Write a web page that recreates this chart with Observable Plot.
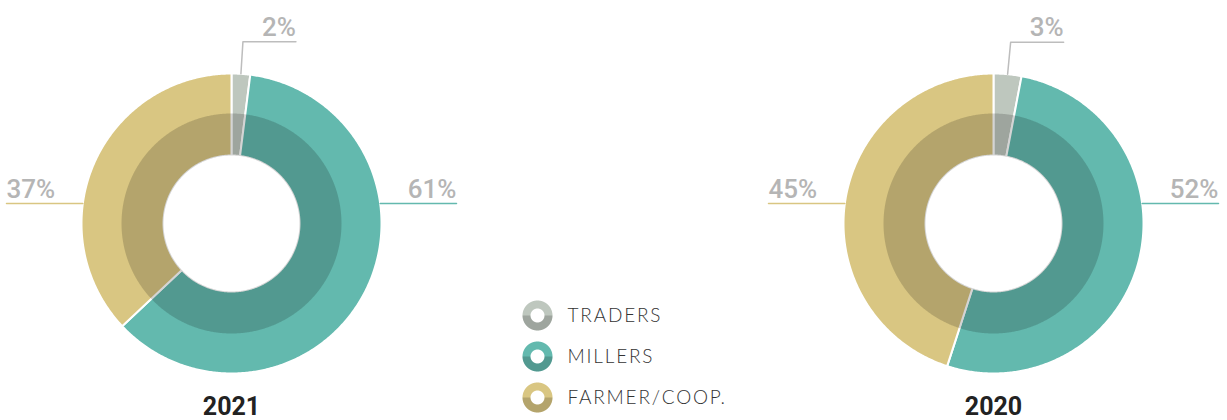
<!DOCTYPE html>
<html><head><meta charset="utf-8">
<script src="https://cdn.jsdelivr.net/npm/d3@7"></script>
<script src="https://cdn.jsdelivr.net/npm/@observablehq/plot@0.6"></script>
<style>
body{margin:0;background:#fff;}
#chart svg{display:block;}
</style></head><body><div id="chart"></div>
<script>
// ---- data ----
const years = ["2021", "2020"];
const categories = ["TRADERS", "MILLERS", "FARMER/COOP."];
const shares2021 = [2, 61, 37];
const shares2020 = [3, 52, 45];
const sliceColors = ["#bec7be", "#63b9ae", "#d9c682"];
const labelSuffix = "%";

// ---- layout ----
const W = 1227, H = 420;
const centers = [{cx: 231, cy: 223}, {cx: 993, cy: 223}];
const R_HOLE = 68, R_SHADE = 110, R_OUT = 150;
const SHADE_OPACITY = 0.17;
const legendX = 537, legendY0 = 315, legendStep = 41, legendR0 = 7, legendR1 = 15;

const seriesByYear = [shares2021, shares2020];

function ringPoints(cx, cy, r0, r1, a0, a1, id, color) {
  const n = Math.max(2, Math.ceil((a1 - a0) / (Math.PI / 360)));
  const pts = [];
  for (let i = 0; i <= n; i++) {
    const a = a0 + (a1 - a0) * i / n;
    pts.push({x: cx + r1 * Math.sin(a), y: cy - r1 * Math.cos(a), id, color});
  }
  for (let i = n; i >= 0; i--) {
    const a = a0 + (a1 - a0) * i / n;
    pts.push({x: cx + r0 * Math.sin(a), y: cy - r0 * Math.cos(a), id, color});
  }
  return pts;
}

const pie = d3.pie().sort(null).value(d => d.value).startAngle(0).endAngle(2 * Math.PI);

const slicePts = [], shadePts = [], leaderPts = [], labels = [], titles = [];
years.forEach((yr, i) => {
  const {cx, cy} = centers[i];
  const rows = categories.map((c, j) => ({category: c, value: seriesByYear[i][j], color: sliceColors[j]}));
  const arcs = pie(rows);
  arcs.forEach((a, j) => {
    const id = yr + "-" + j;
    slicePts.push(...ringPoints(cx, cy, R_HOLE, R_OUT, a.startAngle, a.endAngle, id, a.data.color));
    const m = (a.startAngle + a.endAngle) / 2;
    const text = a.data.value + labelSuffix;
    if (a.data.value < 10) {
      const x0 = cx + R_OUT * Math.sin(m), y0 = cy - R_OUT * Math.cos(m);
      const x1 = cx + 182 * Math.sin(m), y1 = cy - 182 * Math.cos(m);
      const x2 = x1 + 53;
      leaderPts.push({x: x0, y: y0, id, color: "#bdbdbd"}, {x: x1, y: y1, id, color: "#bdbdbd"}, {x: x2, y: y1, id, color: "#bdbdbd"});
      labels.push({x: x2, y: y1 - 6, text, anchor: "end"});
    } else {
      const side = Math.sin(m) > 0 ? 1 : -1;
      const ly = cy - 20;
      const xe = cx + side * Math.sqrt(R_OUT * R_OUT - 20 * 20);
      const xo = cx + side * 225;
      leaderPts.push({x: xe, y: ly, id, color: a.data.color}, {x: xo, y: ly, id, color: a.data.color});
      labels.push({x: xo, y: ly - 6, text, anchor: side > 0 ? "end" : "start"});
    }
  });
  shadePts.push(...ringPoints(cx, cy, R_HOLE, R_SHADE, 0, 2 * Math.PI, "shade-" + yr, "black"));
  titles.push({x: cx, y: 414, text: yr});
});

const legendPts = [], legendShade = [], legendLabels = [];
categories.forEach((c, j) => {
  const cy = legendY0 + j * legendStep;
  legendPts.push(...ringPoints(legendX, cy, legendR0, legendR1, 0, 2 * Math.PI, "lg-" + j, sliceColors[j]));
  legendShade.push(...ringPoints(legendX, cy, legendR0, legendR1, Math.PI / 2, 3 * Math.PI / 2, "lgs-" + j, "black"));
  legendLabels.push({x: legendX + 30, y: cy, text: c});
});

const chart = Plot.plot({
  width: W, height: H,
  margin: 0,
  x: {domain: [0, W], range: [0, W], axis: null},
  y: {domain: [0, H], range: [0, H], axis: null},
  color: {type: "identity"},
  style: {background: "white", overflow: "visible"},
  marks: [
    Plot.line(slicePts, {x: "x", y: "y", z: "id", fill: "color", stroke: "white", strokeWidth: 2, curve: "linear-closed"}),
    Plot.line(shadePts, {x: "x", y: "y", z: "id", fill: "black", fillOpacity: SHADE_OPACITY, stroke: "none", curve: "linear-closed"}),
    Plot.line(leaderPts, {x: "x", y: "y", z: "id", stroke: "color", strokeWidth: 1.5, curve: "linear"}),
    Plot.text(labels.filter(d => d.anchor === "end"), {x: "x", y: "y", text: "text", textAnchor: "end", lineAnchor: "bottom", fontFamily: "Roboto", fontWeight: 500, fontSize: 26, fill: "#b5b5b5"}),
    Plot.text(labels.filter(d => d.anchor === "start"), {x: "x", y: "y", text: "text", textAnchor: "start", lineAnchor: "bottom", fontFamily: "Roboto", fontWeight: 500, fontSize: 26, fill: "#b5b5b5"}),
    Plot.line(legendPts, {x: "x", y: "y", z: "id", fill: "color", stroke: "none", curve: "linear-closed"}),
    Plot.line(legendShade, {x: "x", y: "y", z: "id", fill: "black", fillOpacity: SHADE_OPACITY, stroke: "none", curve: "linear-closed"}),
    Plot.text(legendLabels, {x: "x", y: "y", text: "text", textAnchor: "start", lineAnchor: "middle", fontFamily: "Lato", fontWeight: 300, fontSize: 19, fill: "#333"}),
    Plot.text(titles, {x: "x", y: "y", text: "text", textAnchor: "middle", lineAnchor: "bottom", fontFamily: "Roboto", fontWeight: 700, fontSize: 25, fill: "#222"})
  ]
});
d3.select(chart).selectAll("text")
  .filter(function () { return categories.includes(this.textContent); })
  .attr("letter-spacing", "1.8px");
document.getElementById("chart").appendChild(chart);
</script></body></html>
